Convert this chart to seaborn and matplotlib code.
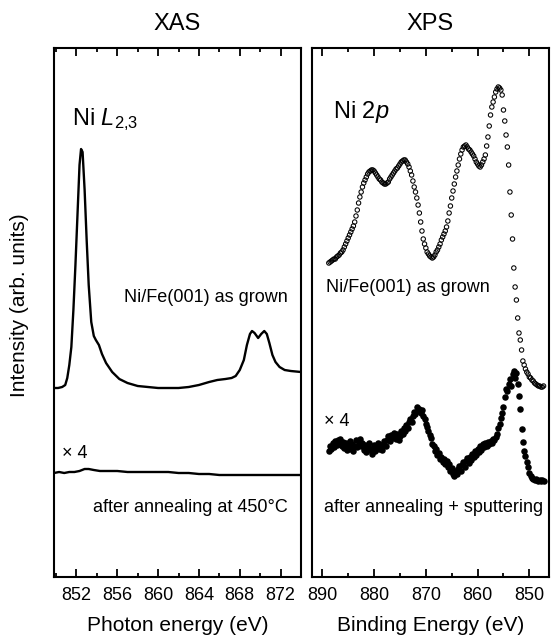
import numpy as np
import pandas as pd
import matplotlib
matplotlib.use("Agg")
import matplotlib.pyplot as plt
import seaborn as sns
from matplotlib.ticker import MultipleLocator

# ---------------- data ----------------
# XAS, Ni L2,3 (photon energy, eV) -- as grown
xas_grown_e = [849.8, 850.2, 850.6, 850.9, 851.1, 851.3, 851.5, 851.7, 851.9, 852.1,
               852.3, 852.45, 852.6, 852.8, 853.0, 853.2, 853.45, 853.7, 853.9, 854.2,
               854.5, 854.9, 855.5, 856.2, 857.0, 858.0, 859.0, 860.0, 861.0, 862.0,
               863.0, 864.0, 865.0, 865.8, 866.6, 867.2, 867.6, 868.0, 868.4, 868.7,
               869.0, 869.2, 869.45, 869.8, 870.1, 870.4, 870.65, 870.9, 871.2, 871.5,
               871.9, 872.4, 873.0, 874.0]
xas_grown_i = [189, 189, 190, 192, 199, 212, 230, 267, 312, 362,
               412, 428, 425, 387, 337, 292, 255, 241, 237, 232,
               223, 214, 205, 198, 194, 191, 190, 189, 189, 189,
               190, 192, 195, 197, 198, 199, 201, 207, 217, 232,
               243, 246, 244, 239, 243, 246, 243, 234, 222, 215,
               210, 207, 206, 205]

# XAS after annealing at 450 C (x4)
xas_ann_e = [849.8, 850.3, 850.8, 851.3, 851.8, 852.3, 852.8, 853.2, 853.7, 854.3,
             855.0, 856.0, 857.0, 858.0, 859.0, 860.0, 861.0, 862.0, 863.0, 864.0,
             865.0, 866.0, 867.0, 868.0, 869.0, 870.0, 871.0, 872.0, 873.0, 874.0]
xas_ann_i = [104, 105, 104, 105, 105, 106, 108, 108, 107, 106,
             106, 106, 105, 105, 105, 105, 105, 104, 104, 103,
             103, 102, 102, 102, 102, 102, 102, 102, 102, 102]

# XPS, Ni 2p (binding energy, eV)
xps_e = [888.75, 888.50, 888.25, 888.00, 887.75, 887.50, 887.25, 887.00,
         886.75, 886.50, 886.25, 886.00, 885.75, 885.50, 885.25, 885.00,
         884.75, 884.50, 884.25, 884.00, 883.75, 883.50, 883.25, 883.00,
         882.75, 882.50, 882.25, 882.00, 881.75, 881.50, 881.25, 881.00,
         880.75, 880.50, 880.25, 880.00, 879.75, 879.50, 879.25, 879.00,
         878.75, 878.50, 878.25, 878.00, 877.75, 877.50, 877.25, 877.00,
         876.75, 876.50, 876.25, 876.00, 875.75, 875.50, 875.25, 875.00,
         874.75, 874.50, 874.25, 874.00, 873.75, 873.50, 873.25, 873.00,
         872.75, 872.50, 872.25, 872.00, 871.75, 871.50, 871.25, 871.00,
         870.75, 870.50, 870.25, 870.00, 869.75, 869.50, 869.25, 869.00,
         868.75, 868.50, 868.25, 868.00, 867.75, 867.50, 867.25, 867.00,
         866.75, 866.50, 866.25, 866.00, 865.75, 865.50, 865.25, 865.00,
         864.75, 864.50, 864.25, 864.00, 863.75, 863.50, 863.25, 863.00,
         862.75, 862.50, 862.25, 862.00, 861.75, 861.50, 861.25, 861.00,
         860.75, 860.50, 860.25, 860.00, 859.75, 859.50, 859.25, 859.00,
         858.75, 858.50, 858.25, 858.00, 857.75, 857.50, 857.25, 857.00,
         856.75, 856.50, 856.25, 856.00, 855.75, 855.50, 855.25, 855.00,
         854.75, 854.50, 854.25, 854.00, 853.75, 853.50, 853.25, 853.00,
         852.75, 852.50, 852.25, 852.00, 851.75, 851.50, 851.25, 851.00,
         850.75, 850.50, 850.25, 850.00, 849.75, 849.50, 849.25, 849.00,
         848.75, 848.50, 848.25, 848.00, 847.75, 847.50, 847.25]

xps_grown_i = [314, 315, 316, 317, 318, 318, 320, 321,
               322, 324, 325, 327, 330, 333, 336, 339,
               342, 345, 348, 351, 355, 361, 367, 374,
               380, 385, 390, 394, 397, 400, 403, 405,
               406, 407, 407, 406, 404, 402, 400, 398,
               397, 395, 394, 393, 393, 394, 395, 398,
               400, 402, 404, 406, 408, 409, 411, 413,
               415, 416, 417, 417, 415, 413, 410, 406,
               402, 396, 390, 385, 379, 372, 364, 355,
               346, 338, 333, 329, 325, 323, 321, 320,
               319, 320, 322, 325, 327, 330, 333, 337,
               340, 343, 346, 350, 356, 364, 371, 379,
               386, 393, 400, 406, 412, 418, 423, 427,
               430, 431, 432, 430, 428, 427, 425, 423,
               421, 418, 415, 413, 411, 410, 412, 415,
               418, 422, 431, 440, 451, 462, 470, 475,
               480, 485, 488, 490, 489, 487, 482, 467,
               456, 442, 430, 412, 385, 362, 338, 309,
               290, 277, 259, 244, 237, 227, 216, 212,
               208, 205, 203, 200, 199, 197, 196, 194,
               193, 192, 191, 191, 190, 190, 191]

xps_sput_i = [126, 131, 128, 134, 130, 136, 132, 137,
              133, 138, 131, 135, 129, 134, 127, 132,
              136, 128, 133, 126, 131, 137, 130, 135,
              138, 131, 134, 127, 132, 125, 130, 134,
              127, 123, 129, 132, 126, 130, 134, 128,
              131, 127, 133, 136, 131, 137, 141, 136,
              142, 139, 144, 140, 138, 143, 137, 141,
              146, 143, 149, 146, 152, 149, 155, 158,
              155, 161, 165, 163, 170, 166, 168, 164,
              167, 161, 158, 153, 150, 146, 142, 139,
              133, 131, 126, 128, 122, 124, 118, 120,
              115, 118, 113, 116, 110, 113, 106, 109,
              103, 101, 106, 103, 108, 111, 106, 112,
              115, 110, 116, 119, 114, 120, 117, 123,
              120, 126, 122, 128, 125, 131, 127, 133,
              130, 134, 131, 135, 133, 136, 134, 138,
              137, 140, 143, 149, 153, 159, 164, 170,
              180, 188, 186, 193, 198, 191, 203, 206,
              199, 204, 193, 181, 168, 148, 135, 126,
              121, 115, 110, 104, 101, 99, 98, 97,
              98, 97, 96, 97, 96, 97, 96]

assert len(xps_e) == len(xps_grown_i) == len(xps_sput_i)

xas_grown = pd.DataFrame({"E": xas_grown_e, "I": xas_grown_i})
xas_ann = pd.DataFrame({"E": xas_ann_e, "I": xas_ann_i})
xps = pd.DataFrame({"E": xps_e, "grown": xps_grown_i, "sput": xps_sput_i})

# ---------------- style ----------------
sns.set_theme(style="ticks")
plt.rcParams["font.family"] = ["Liberation Sans", "DejaVu Sans"]
plt.rcParams["mathtext.fontset"] = "custom"
plt.rcParams["mathtext.rm"] = "Liberation Sans"
plt.rcParams["mathtext.it"] = "Liberation Sans:italic"
for key in ("text.color", "axes.labelcolor", "xtick.color", "ytick.color",
            "axes.edgecolor"):
    plt.rcParams[key] = "black"

fig = plt.figure(figsize=(5.51, 6.40), dpi=100)
W, H = 551.0, 640.0
top_px, bot_px = 48, 577
axL = fig.add_axes([54 / W, 1 - bot_px / H, (301 - 54) / W, (bot_px - top_px) / H])
axR = fig.add_axes([312 / W, 1 - bot_px / H, (549 - 312) / W, (bot_px - top_px) / H])

# XAS
sns.lineplot(data=xas_grown, x="E", y="I", ax=axL, color="black", lw=1.7, sort=False)
sns.lineplot(data=xas_ann, x="E", y="I", ax=axL, color="black", lw=1.7, sort=False)

# XPS
sns.scatterplot(data=xps, x="E", y="grown", ax=axR, marker="o", s=10,
                color="black", linewidth=0.75)
axR.collections[-1].set_facecolor("none")
axR.collections[-1].set_edgecolor("black")
sns.scatterplot(data=xps, x="E", y="sput", ax=axR, marker="o", s=22,
                color="black", linewidth=0)

for ax in (axL, axR):
    ax.set_ylim(0, 529)
    ax.set_yticks([])
    ax.set_ylabel("")
    for sp in ax.spines.values():
        sp.set_visible(True)
        sp.set_linewidth(1.5)
        sp.set_color("black")
    ax.tick_params(axis="x", which="major", direction="in", length=6, width=1.3,
                   top=True, bottom=True, labelsize=13, pad=7,
                   colors="black", labelcolor="black")
    ax.tick_params(axis="x", which="minor", direction="in", length=3, width=1.3,
                   top=True, bottom=True, colors="black")

axL.set_xlim(849.8, 874.0)
axL.xaxis.set_major_locator(MultipleLocator(4))
axL.xaxis.set_minor_locator(MultipleLocator(2))
axR.set_xlim(892.0, 846.2)
axR.xaxis.set_major_locator(MultipleLocator(10))
axR.xaxis.set_minor_locator(MultipleLocator(5))

axL.set_xlabel("Photon energy (eV)", fontsize=15, labelpad=9, color="black")
axR.set_xlabel("Binding Energy (eV)", fontsize=15, labelpad=9, color="black")
axL.set_title("XAS", fontsize=17, pad=13, color="black")
axR.set_title("XPS", fontsize=17, pad=13, color="black")
fig.text(20 / W, 1 - 305 / H, "Intensity (arb. units)", rotation=90,
         ha="center", va="center", fontsize=15, color="black")

# annotations
axL.text(851.6, 457, r"Ni $\mathit{L}_{2{,}3}$", fontsize=17, ha="left", va="center")
axL.text(872.7, 280, "Ni/Fe(001) as grown", fontsize=13, ha="right", va="center")
axL.text(850.6, 124, "\u00d7 4", fontsize=13, ha="left", va="center")
axL.text(872.7, 70, "after annealing at 450\u00b0C", fontsize=13, ha="right", va="center")

axR.text(888.0, 465, r"Ni 2$\mathit{p}$", fontsize=17, ha="left", va="center")
axR.text(889.3, 289, "Ni/Fe(001) as grown", fontsize=13, ha="left", va="center")
axR.text(889.7, 155, "\u00d7 4", fontsize=13, ha="left", va="center")
axR.text(889.7, 70, "after annealing + sputtering", fontsize=13, ha="left", va="center")

fig.savefig("out.png", dpi=100)
